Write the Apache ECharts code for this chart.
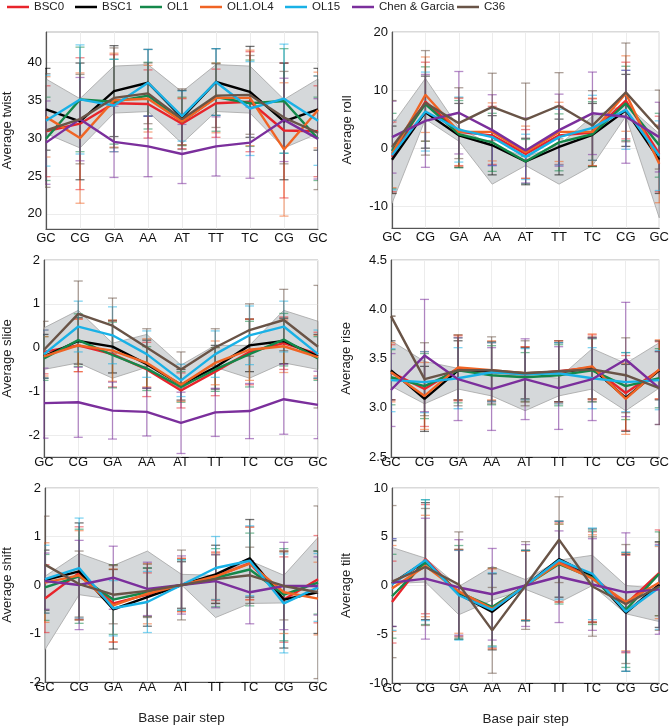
<!DOCTYPE html>
<html>
<head>
<meta charset="utf-8">
<script src="https://cdn.jsdelivr.net/npm/echarts@6/dist/echarts.min.js"></script>
<style>
  html, body { margin: 0; padding: 0; background: #fff; }
  #chart { width: 672px; height: 727px; }
</style>
</head>
<body>
<div id="chart"></div>
<script>
// base pair steps along x
const steps = ['GC', 'CG', 'GA', 'AA', 'AT', 'TT', 'TC', 'CG', 'GC']
const names = ['BSC0', 'BSC1', 'OL1', 'OL1.OL4', 'OL15', 'Chen & Garcia', 'C36']
const colors = ['#e8242b', '#000000', '#14884a', '#f06424', '#19b1e6', '#7b2f9c', '#695447']

// rows follow names order: BSC0, BSC1, OL1, OL1.OL4, OL15, Chen & Garcia, C36
const twistMean = [
  [30.9, 31.9, 34.6, 34.5, 31.9, 34.6, 34.8, 31.0, 30.9],
  [33.8, 32.2, 36.2, 37.3, 32.7, 37.4, 36.1, 32.2, 33.8],
  [29.9, 35.1, 34.8, 35.6, 32.2, 35.4, 34.6, 34.9, 29.9],
  [32.8, 30.0, 35.0, 35.2, 32.2, 35.3, 35.3, 28.5, 33.7],
  [32.3, 35.1, 34.3, 37.3, 32.9, 37.4, 33.9, 35.2, 32.3],
  [29.4, 32.5, 29.5, 28.9, 27.9, 28.9, 29.4, 32.4, 29.9],
  [31.0, 32.5, 35.3, 35.9, 32.5, 35.6, 35.7, 32.7, 30.7]
]
const twistSd = [
  [6.0, 8.7, 6.4, 4.5, 3.3, 4.5, 6.6, 8.9, 6.0],
  [5.4, 7.7, 6.0, 4.4, 3.6, 4.4, 6.0, 7.7, 5.4],
  [5.5, 6.9, 5.6, 4.4, 3.2, 4.5, 5.7, 6.9, 5.5],
  [5.3, 8.6, 6.2, 4.4, 3.1, 4.6, 6.3, 8.8, 5.0],
  [6.0, 7.2, 6.1, 4.4, 3.3, 4.4, 6.2, 7.2, 5.9],
  [5.5, 5.5, 4.7, 4.0, 3.9, 3.9, 4.7, 5.5, 5.3],
  [7.5, 5.9, 6.6, 4.0, 4.0, 4.2, 5.2, 6.1, 7.5]
]
const twistBandHi = [37.8, 35.2, 39.5, 39.7, 36.1, 39.7, 39.5, 35.1, 37.8]
const twistBandLo = [30.6, 28.7, 33.3, 33.5, 29.3, 33.5, 33.3, 28.7, 30.6]

const rollMean = [
  [-1.5, 8.0, 2.8, 2.2, -1.0, 2.2, 2.7, 8.2, -1.0],
  [-2.0, 6.2, 2.2, 0.5, -2.3, 0.2, 2.3, 6.5, -2.0],
  [-0.5, 7.6, 2.4, 1.0, -2.3, 1.0, 2.4, 7.7, 0.5],
  [-1.0, 9.2, 2.8, 2.8, -0.7, 2.8, 2.8, 9.4, -2.7],
  [-1.2, 6.3, 3.2, 1.9, -1.5, 1.9, 3.5, 6.6, -1.3],
  [1.9, 4.7, 6.1, 3.1, -0.4, 3.1, 6.0, 5.4, 1.9],
  [0.2, 7.8, 4.3, 7.1, 4.9, 7.3, 3.9, 9.6, 3.2]
]
const rollSd = [
  [6.0, 6.8, 5.8, 5.0, 4.2, 5.0, 5.8, 6.6, 6.5],
  [5.8, 6.2, 5.5, 5.1, 4.0, 4.8, 5.4, 6.2, 5.8],
  [6.5, 6.4, 5.8, 5.0, 3.8, 4.9, 5.6, 6.4, 5.5],
  [5.8, 6.5, 5.9, 5.0, 4.5, 5.1, 5.8, 6.5, 6.7],
  [6.0, 6.8, 5.6, 4.9, 3.9, 4.8, 5.6, 6.8, 6.0],
  [6.2, 8.0, 7.1, 6.1, 5.6, 6.2, 7.1, 8.0, 6.0],
  [8.0, 9.0, 6.1, 5.8, 6.3, 5.7, 6.0, 8.5, 6.8]
]
const rollBandHi = [4.0, 12.0, 3.5, 0.5, -1.5, 0.5, 5.5, 7.5, 2.5]
const rollBandLo = [-9.5, 5.0, 1.2, -6.2, -3.0, -6.2, -3.0, 5.5, -12.0]

const slideMean = [
  [-0.1, 0.05, -0.15, -0.5, -0.98, -0.55, -0.1, 0.1, -0.15],
  [-0.2, 0.15, 0.02, -0.38, -0.85, -0.45, 0.05, 0.15, -0.2],
  [-0.25, 0.17, -0.17, -0.48, -0.9, -0.5, -0.15, 0.18, -0.25],
  [-0.2, 0.05, -0.07, -0.35, -0.85, -0.35, -0.05, 0.03, -0.22],
  [-0.15, 0.48, 0.28, -0.15, -0.75, -0.15, 0.28, 0.48, -0.15],
  [-1.27, -1.25, -1.44, -1.47, -1.72, -1.48, -1.45, -1.18, -1.31],
  [-0.05, 0.77, 0.5, 0.0, -0.5, 0.0, 0.4, 0.63, 0.02]
]
const slideSd = [
  [0.5, 0.6, 0.75, 0.62, 0.4, 0.55, 0.75, 0.6, 0.5],
  [0.5, 0.53, 0.6, 0.55, 0.35, 0.5, 0.6, 0.52, 0.5],
  [0.5, 0.6, 0.75, 0.5, 0.35, 0.5, 0.75, 0.6, 0.5],
  [0.45, 0.6, 0.7, 0.55, 0.38, 0.5, 0.7, 0.6, 0.5],
  [0.55, 0.58, 0.65, 0.53, 0.37, 0.53, 0.67, 0.58, 0.55],
  [0.8, 0.8, 0.65, 0.55, 0.7, 0.55, 0.63, 0.8, 0.77],
  [0.65, 0.75, 0.63, 0.43, 0.4, 0.43, 0.6, 0.7, 1.4]
]
const slideBandHi = [0.45, 0.85, 0.1, 0.3, -0.4, 0.05, 0.05, 0.85, 0.6]
const slideBandLo = [-0.5, -0.35, -0.7, -0.45, -0.95, -0.45, -0.7, -0.35, -0.5]

const riseMean = [
  [3.36, 3.19, 3.40, 3.36, 3.34, 3.37, 3.41, 3.15, 3.38],
  [3.38, 3.09, 3.38, 3.37, 3.35, 3.36, 3.40, 3.10, 3.38],
  [3.31, 3.22, 3.38, 3.33, 3.31, 3.33, 3.38, 3.22, 3.30],
  [3.36, 3.12, 3.41, 3.38, 3.35, 3.36, 3.42, 3.09, 3.39],
  [3.28, 3.26, 3.30, 3.36, 3.34, 3.35, 3.30, 3.26, 3.28],
  [3.18, 3.53, 3.29, 3.19, 3.29, 3.20, 3.29, 3.49, 3.20],
  [3.93, 3.29, 3.38, 3.38, 3.35, 3.37, 3.39, 3.33, 3.20]
]
const riseSd = [
  [0.28, 0.38, 0.33, 0.3, 0.28, 0.31, 0.33, 0.38, 0.29],
  [0.3, 0.33, 0.3, 0.3, 0.26, 0.3, 0.31, 0.34, 0.3],
  [0.28, 0.33, 0.33, 0.3, 0.25, 0.31, 0.32, 0.34, 0.3],
  [0.3, 0.34, 0.33, 0.3, 0.27, 0.32, 0.33, 0.36, 0.3],
  [0.32, 0.31, 0.31, 0.3, 0.26, 0.31, 0.31, 0.3, 0.3],
  [0.37, 0.57, 0.42, 0.42, 0.41, 0.42, 0.42, 0.58, 0.37],
  [0, 0.37, 0.36, 0.34, 0.33, 0.31, 0.33, 0.38, 0.37]
]
const riseBandHi = [3.68, 3.47, 3.40, 3.33, 3.33, 3.30, 3.60, 3.45, 3.66]
const riseBandLo = [3.22, 3.04, 3.19, 3.12, 2.97, 3.12, 3.19, 2.97, 3.20]

const shiftMean = [
  [-0.28, 0.25, -0.38, -0.2, 0, 0.18, 0.45, -0.3, 0.12],
  [0.1, 0.28, -0.5, -0.25, 0, 0.22, 0.55, -0.3, -0.15],
  [-0.05, 0.18, -0.3, -0.15, 0, 0.15, 0.32, -0.2, 0.05],
  [0.05, 0.2, -0.42, -0.18, 0, 0.18, 0.44, -0.15, -0.28],
  [0.12, 0.35, -0.48, -0.35, 0, 0.35, 0.5, -0.38, -0.05],
  [0.08, 0.0, 0.15, -0.08, 0, 0.08, -0.15, -0.02, -0.02],
  [0.42, 0.02, -0.2, -0.12, 0, 0.12, 0.2, -0.02, -0.15]
]
const shiftSd = [
  [0.7, 0.95, 0.8, 0.45, 0.55, 0.5, 0.75, 0.88, 0.9],
  [0.62, 1.0, 0.82, 0.6, 0.48, 0.6, 0.8, 1.0, 0.85],
  [0.68, 0.97, 0.72, 0.5, 0.52, 0.6, 0.75, 0.95, 0.65],
  [0.82, 0.92, 0.75, 0.62, 0.55, 0.48, 0.75, 0.85, 0.75],
  [0.7, 1.03, 0.57, 0.63, 0.52, 0.65, 0.72, 1.02, 0.7],
  [0.58, 0.92, 0.65, 0.55, 0.6, 0.55, 0.65, 0.9, 0.6],
  [1.0, 0.68, 0.6, 0.55, 0.72, 0.5, 0.58, 0.7, 1.78]
]
const shiftBandHi = [0.18, 0.65, 0.4, 0.7, 0.22, 0.2, 0.5, 0.2, 0.98]
const shiftBandLo = [-1.33, -0.2, -0.3, -0.12, 0, -0.67, -0.38, -0.37, -0.1]

const tiltMean = [
  [-1.7, 2.7, -0.8, -2.3, 0, 2.4, 0.9, -1.9, 1.3],
  [0.2, 2.5, -0.9, -2.7, 0, 2.7, 1.0, -2.8, 0.1],
  [-1.1, 2.4, -0.7, -2.2, 0, 2.2, 0.8, -2.5, 1.2],
  [-0.3, 2.0, -0.6, -2.4, 0, 2.3, 0.7, -1.7, 0.3],
  [0.1, 2.6, -1.0, -2.5, 0, 2.6, 1.2, -2.7, -0.2],
  [0.3, 0.7, -0.2, -0.9, 0, 0.9, 0.1, -0.7, -0.4],
  [0.4, 1.9, 0.1, -4.6, 0, 4.7, -0.1, -1.9, -0.1]
]
const tiltSd = [
  [4.2, 5.6, 4.4, 4.1, 3.6, 4.1, 4.6, 5.0, 4.4],
  [4.4, 6.0, 4.6, 3.9, 3.6, 3.9, 4.8, 6.0, 4.4],
  [4.3, 6.4, 4.8, 4.0, 3.6, 4.1, 4.8, 5.9, 4.3],
  [4.4, 5.2, 4.3, 4.1, 3.5, 4.0, 4.5, 5.0, 3.7],
  [4.7, 6.2, 4.6, 3.8, 3.6, 4.0, 4.7, 6.1, 4.3],
  [4.5, 6.2, 4.9, 4.7, 4.2, 4.7, 4.7, 6.1, 4.6],
  [7.8, 6.0, 5.4, 4.4, 4.5, 4.4, 5.1, 6.1, 4.5]
]
const tiltBandHi = [3.9, 2.8, -0.1, 1.95, 0.6, 2.6, 3.1, 0.0, -0.3]
const tiltBandLo = [0.2, 0.35, -3.0, -1.5, -0.4, -1.75, 0.0, -2.9, -3.7]

const twistTicks = [20, 25, 30, 35, 40]
const rollTicks = [-10, 0, 10, 20]
const slideTicks = [-2, -1, 0, 1, 2]
const riseTicks = [2.5, 3.0, 3.5, 4.0, 4.5]
const shiftTicks = [-2, -1, 0, 1, 2]
const tiltTicks = [-10, -5, 0, 5, 10]

const legendX = [7, 75, 140, 200, 285, 352, 457]

const panels = [
  { title: 'Average twist', mean: twistMean, sd: twistSd, lo: twistBandLo, hi: twistBandHi, ticks: twistTicks,
    min: 18, max: 44, grid: { left: 45, width: 273, top: 32, height: 197 }, gap: 32, margin: 3 },
  { title: 'Average roll', mean: rollMean, sd: rollSd, lo: rollBandLo, hi: rollBandHi, ticks: rollTicks,
    min: -13.75, max: 20, grid: { left: 392, width: 268, top: 32, height: 196 }, gap: 38, margin: 3 },
  { title: 'Average slide', mean: slideMean, sd: slideSd, lo: slideBandLo, hi: slideBandHi, ticks: slideTicks,
    min: -2.5, max: 2, grid: { left: 42, width: 276, top: 260, height: 197 }, gap: 30, margin: -1 },
  { title: 'Average rise', mean: riseMean, sd: riseSd, lo: riseBandLo, hi: riseBandHi, ticks: riseTicks,
    min: 2.5, max: 4.5, grid: { left: 391, width: 270, top: 260, height: 197 }, gap: 38, margin: -1, fixed: 1 },
  { title: 'Average shift', mean: shiftMean, sd: shiftSd, lo: shiftBandLo, hi: shiftBandHi, ticks: shiftTicks,
    min: -2, max: 2, grid: { left: 43, width: 275, top: 488, height: 194 }, gap: 31, margin: -1, xname: true },
  { title: 'Average tilt', mean: tiltMean, sd: tiltSd, lo: tiltBandLo, hi: tiltBandHi, ticks: tiltTicks,
    min: -10, max: 10, grid: { left: 392, width: 269, top: 488, height: 195 }, gap: 39, margin: -1, xname: true }
]

const font = 'Liberation Sans, Arial, sans-serif'

// grey band drawn as one polygon through the axis scales
function bandRender(lo, hi) {
  return function (params, api) {
    const top = hi.map((v, i) => api.coord([i, v]))
    const bot = lo.map((v, i) => api.coord([i, v])).reverse()
    return {
      type: 'polygon',
      shape: { points: top.concat(bot) },
      style: { fill: '#d5d8da', stroke: '#a5a5a5', lineWidth: 0.8 }
    }
  }
}

// error bar with caps
function errRender(params, api) {
  const x = api.value(0)
  const a = api.coord([x, api.value(1)])
  const b = api.coord([x, api.value(2)])
  const w = 4.5
  const style = { stroke: api.visual('color'), lineWidth: 1.3, opacity: 0.55 }
  return {
    type: 'group',
    children: [
      { type: 'line', shape: { x1: a[0], y1: a[1], x2: b[0], y2: b[1] }, style: style },
      { type: 'line', shape: { x1: a[0] - w, y1: a[1], x2: a[0] + w, y2: a[1] }, style: style },
      { type: 'line', shape: { x1: b[0] - w, y1: b[1], x2: b[0] + w, y2: b[1] }, style: style }
    ]
  }
}

const grids = []
const xAxes = []
const yAxes = []
const series = []

panels.forEach((p, pi) => {
  grids.push(Object.assign({ show: true, borderColor: '#b5b5b5', borderWidth: 1, backgroundColor: 'transparent' }, p.grid))
  xAxes.push({
    type: 'value', gridIndex: pi, min: 0, max: 8, interval: 1,
    name: p.xname ? 'Base pair step' : '', nameLocation: 'middle', nameGap: 29,
    nameTextStyle: { fontFamily: font, fontSize: 13.5, color: '#222' },
    axisLine: { show: true, onZero: false, lineStyle: { color: '#555', width: 1.2 } },
    axisTick: { show: false },
    axisLabel: { margin: p.margin, fontFamily: font, fontSize: 13, color: '#111',
      formatter: (v) => steps[v] },
    splitLine: { show: true, lineStyle: { color: '#ececec', width: 1 } }
  })
  yAxes.push({
    type: 'value', gridIndex: pi, min: p.min, max: p.max,
    name: p.title, nameLocation: 'middle', nameGap: p.gap,
    nameTextStyle: { fontFamily: font, fontSize: 13, color: '#222' },
    axisLine: { show: true, onZero: false, lineStyle: { color: '#555', width: 1.2 } },
    axisTick: { show: false, customValues: p.ticks },
    axisLabel: { margin: 4, fontFamily: font, fontSize: 13, color: '#111', customValues: p.ticks,
      formatter: (v) => p.fixed ? v.toFixed(p.fixed) : String(v) },
    splitLine: { show: true, lineStyle: { color: '#ececec', width: 1 } }
  })

  series.push({
    type: 'custom', name: 'band' + pi, xAxisIndex: pi, yAxisIndex: pi,
    data: [[0, p.lo[0]]], renderItem: bandRender(p.lo, p.hi), z: 1, silent: true
  })
  names.forEach((n, k) => {
    series.push({
      type: 'custom', name: 'err' + pi + '_' + k, xAxisIndex: pi, yAxisIndex: pi,
      itemStyle: { color: colors[k] }, clip: true, z: 2, silent: true,
      encode: { x: 0, y: [1, 2] },
      data: p.mean[k].map((m, i) => [i, m - p.sd[k][i], m + p.sd[k][i]]),
      renderItem: errRender
    })
  })
  names.forEach((n, k) => {
    series.push({
      type: 'line', name: n, xAxisIndex: pi, yAxisIndex: pi,
      data: p.mean[k].map((m, i) => [i, m]),
      showSymbol: false, z: 3,
      lineStyle: { color: colors[k], width: 2.4 },
      itemStyle: { color: colors[k] }
    })
  })
})

const legends = names.map((n, k) => ({
  left: legendX[k], top: 1, padding: 0,
  data: [{ name: n, icon: 'rect' }],
  itemWidth: 22, itemHeight: 2.5,
  textStyle: { fontFamily: font, fontSize: 11.5, color: '#222' },
  selectedMode: false
}))

const chart = echarts.init(document.getElementById('chart'))
chart.setOption({
  animation: false,
  backgroundColor: '#fff',
  legend: legends,
  grid: grids,
  xAxis: xAxes,
  yAxis: yAxes,
  series: series
})
</script>
</body>
</html>
